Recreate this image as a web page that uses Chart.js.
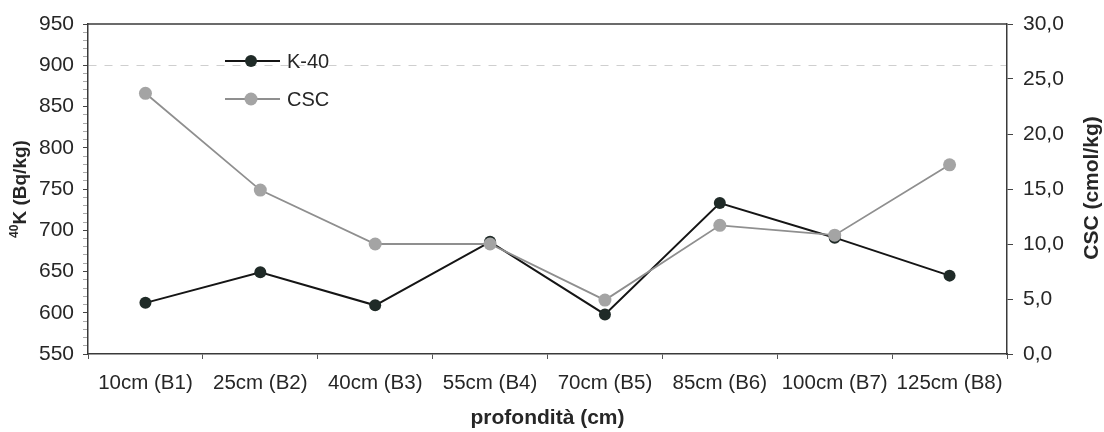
<!DOCTYPE html>
<html>
<head>
<meta charset="utf-8">
<script src="https://cdn.jsdelivr.net/npm/chart.js@4/dist/chart.umd.min.js"></script>
<style>
  body { margin: 0; background: #fff; }
</style>
</head>
<body>
<canvas id="myChart" width="1104" height="432"></canvas>
<script>
var categories = ["10cm (B1)", "25cm (B2)", "40cm (B3)", "55cm (B4)", "70cm (B5)", "85cm (B6)", "100cm (B7)", "125cm (B8)"];
var k40 = [612, 649, 609, 686, 598, 733, 691, 645];
var csc = [23.7, 14.9, 10.0, 10.0, 4.9, 11.7, 10.8, 17.2];

var fontFam = "'Liberation Sans', Arial, sans-serif";
var textCol = "#262626";

// legend, top frame and both y titles drawn by hand
var extras = {
  id: "extras",
  afterDraw: (chart) => {
    var ctx = chart.ctx;
    var a = chart.chartArea;
    ctx.save();
    ctx.strokeStyle = "#3a3a3a";
    ctx.lineWidth = 1.5;
    ctx.beginPath();
    ctx.moveTo(a.left, a.top);
    ctx.lineTo(a.right, a.top);
    ctx.stroke();

    var rows = [61, 99];
    chart.data.datasets.forEach((ds, i) => {
      var y = rows[i];
      ctx.strokeStyle = ds.borderColor;
      ctx.lineWidth = ds.borderWidth;
      ctx.beginPath();
      ctx.moveTo(a.left + 137, y);
      ctx.lineTo(a.left + 192, y);
      ctx.stroke();
      ctx.fillStyle = ds.pointBackgroundColor;
      ctx.beginPath();
      ctx.arc(a.left + 163, y, ds.pointRadius, 0, Math.PI * 2);
      ctx.fill();
      ctx.fillStyle = textCol;
      ctx.font = "20px " + fontFam;
      ctx.textAlign = "left";
      ctx.textBaseline = "middle";
      ctx.fillText(ds.label, a.left + 199, y + 1);
    });
    ctx.restore();

    // left title with superscript 40
    ctx.save();
    ctx.translate(19, 189);
    ctx.rotate(-Math.PI / 2);
    ctx.fillStyle = textCol;
    ctx.textBaseline = "alphabetic";
    ctx.textAlign = "left";
    ctx.font = "bold 12px " + fontFam;
    var wSup = ctx.measureText("40").width;
    ctx.font = "bold 19px " + fontFam;
    var wMain = ctx.measureText("K (Bq/kg)").width;
    var x0 = -(wSup + wMain) / 2;
    ctx.font = "bold 12px " + fontFam;
    ctx.fillText("40", x0, -1);
    ctx.font = "bold 19px " + fontFam;
    ctx.fillText("K (Bq/kg)", x0 + wSup, 7);
    ctx.restore();

    ctx.save();
    ctx.translate(1092, 188);
    ctx.rotate(-Math.PI / 2);
    ctx.font = "bold 21px " + fontFam;
    ctx.textAlign = "center";
    ctx.textBaseline = "middle";
    ctx.fillStyle = textCol;
    ctx.fillText("CSC (cmol/kg)", 0, 0);
    ctx.restore();
  },
};

var ctx = document.getElementById("myChart").getContext("2d");
var myChart = new Chart(ctx, {
  type: "line",
  data: {
    labels: categories,
    datasets: [
      {
        label: "K-40",
        data: k40,
        yAxisID: "y",
        borderColor: "#151515",
        borderWidth: 2,
        pointRadius: 6,
        pointBackgroundColor: "#1f2a27",
        pointBorderWidth: 0,
        order: 1,
      },
      {
        label: "CSC",
        data: csc,
        yAxisID: "y1",
        borderColor: "#8f8f8f",
        borderWidth: 1.8,
        pointRadius: 6.5,
        pointBackgroundColor: "#a4a4a4",
        pointBorderWidth: 0,
        order: 0,
      },
    ],
  },
  plugins: [extras],
  options: {
    responsive: false,
    animation: false,
    devicePixelRatio: 1,
    layout: { padding: { top: 24, left: 0, right: 0, bottom: 0 } },
    plugins: { legend: { display: false }, tooltip: { enabled: false } },
    scales: {
      x: {
        offset: true,
        afterFit: (s) => { s.height = 78; },
        grid: { offset: true, drawOnChartArea: false, tickLength: 5, tickColor: "#555" },
        border: { color: "#3a3a3a", width: 1.5 },
        ticks: { color: textCol, font: { family: fontFam, size: 20.5 }, padding: 12, maxRotation: 0, autoSkip: false },
        title: { display: true, text: "profondità (cm)", color: textCol, font: { family: fontFam, size: 21, weight: "bold" }, padding: 1 },
      },
      y: {
        position: "left",
        min: 550,
        max: 950,
        afterFit: (s) => { s.width = 88; },
        grid: {
          color: (c) => (c.tick && c.tick.value === 900 ? "#cfcfcf" : "transparent"),
          tickColor: (c) => (c.tick && c.tick.value % 50 === 0 ? "#444" : "#aaa"),
          tickLength: 5,
        },
        border: { color: "#3a3a3a", width: 1.5, dash: [8, 8] },
        ticks: {
          stepSize: 10,
          autoSkip: false,
          padding: 9,
          color: textCol,
          font: { family: fontFam, size: 21 },
          callback: (v) => (v % 50 === 0 ? v : ""),
        },
      },
      y1: {
        position: "right",
        min: 0,
        max: 30,
        afterFit: (s) => { s.width = 97; },
        grid: { drawOnChartArea: false, tickLength: 6, tickColor: "#444" },
        border: { color: "#3a3a3a", width: 1.5 },
        ticks: {
          stepSize: 5,
          padding: 10,
          color: textCol,
          font: { family: fontFam, size: 21 },
          callback: (v) => v.toFixed(1).replace(".", ","),
        },
      },
    },
  },
});
</script>
</body>
</html>
